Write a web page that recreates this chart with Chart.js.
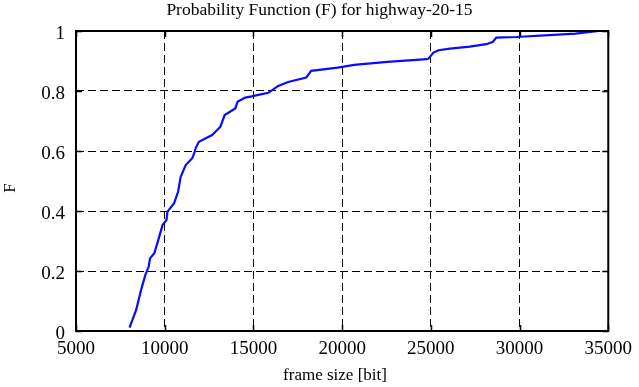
<!DOCTYPE html>
<html>
<head>
<meta charset="utf-8">
<script src="https://cdn.jsdelivr.net/npm/chart.js@4"></script>
<style>
  html,body{margin:0;padding:0;background:#fff;}
  #wrap{width:639px;height:387px;}
</style>
</head>
<body>
<div id="wrap"><canvas id="chart" width="639" height="387"></canvas></div>
<script>
'use strict';

// CDF curve: frame size [bit] -> F
const frameSize = [8017, 8390, 8670, 8910, 9095, 9170, 9413, 9637, 9877, 10100, 10157, 10530, 10754, 10900, 11184,
  11553, 11650, 11743, 11927, 12670, 13140, 13380, 13977, 14106, 14536, 14905, 15279, 15838, 16397, 16955,
  17978, 18257, 19749, 20680, 22542, 24777, 24870, 25150, 25430, 26080, 27196, 28128, 28500, 28687, 29804,
  31664, 33156, 34460];
const cdf = [0.011, 0.07, 0.137, 0.187, 0.214, 0.242, 0.259, 0.303, 0.353, 0.37, 0.398, 0.426, 0.464, 0.514, 0.553,
  0.576, 0.59, 0.609, 0.631, 0.653, 0.681, 0.72, 0.742, 0.764, 0.778, 0.782, 0.787, 0.794, 0.817, 0.83,
  0.845, 0.867, 0.878, 0.887, 0.897, 0.906, 0.908, 0.928, 0.936, 0.941, 0.948, 0.956, 0.964, 0.978, 0.98,
  0.986, 0.991, 1.0];

const xTicks = [5000, 10000, 15000, 20000, 25000, 30000, 35000];
const yTicks = [0, 0.2, 0.4, 0.6, 0.8, 1];

const FONT = '"Liberation Serif", "DejaVu Serif", serif';

// black frame, short inward ticks on all four sides, axis titles
const framePlugin = {
  id: 'frame',
  afterDraw(c){
    const {ctx, chartArea: a, scales: {x, y}} = c;
    ctx.save();
    ctx.strokeStyle = '#000';
    ctx.lineWidth = 1.5;
    ctx.setLineDash([]);
    ctx.beginPath();
    xTicks.forEach(v => {
      const px = Math.round(x.getPixelForValue(v)) + 0.5;
      ctx.moveTo(px, a.bottom); ctx.lineTo(px, a.bottom - 6);
      ctx.moveTo(px, a.top); ctx.lineTo(px, a.top + 6);
    });
    yTicks.forEach(v => {
      const py = Math.round(y.getPixelForValue(v)) + 0.5;
      ctx.moveTo(a.left, py); ctx.lineTo(a.left + 6, py);
      ctx.moveTo(a.right, py); ctx.lineTo(a.right - 6, py);
    });
    ctx.stroke();
    ctx.lineWidth = 2;
    ctx.strokeRect(a.left, a.top, a.right - a.left, a.bottom - a.top);

    ctx.fillStyle = '#000';
    ctx.font = '17px ' + FONT;
    ctx.textAlign = 'center';
    ctx.textBaseline = 'middle';
    ctx.fillText('frame size [bit]', 335, 376);
    ctx.translate(11, 188);
    ctx.rotate(-Math.PI / 2);
    ctx.font = '17px ' + FONT;
    ctx.fillText('F', 0, 0);
    ctx.restore();
  }
};

new Chart(document.getElementById('chart'), {
  type: 'scatter',
  data: {
    datasets: [{
      data: frameSize.map((v, i) => ({x: v, y: cdf[i]})),
      showLine: true,
      borderColor: '#0a0aff',
      borderWidth: 2.2,
      pointRadius: 0,
      tension: 0
    }]
  },
  options: {
    responsive: false,
    animation: false,
    layout: {padding: 0},
    plugins: {
      legend: {display: false},
      tooltip: {enabled: false},
      title: {
        display: true,
        text: 'Probability Function (F) for highway-20-15',
        color: '#000',
        font: {family: FONT, size: 17.5, weight: 'normal'},
        padding: {top: 0, bottom: 10}
      }
    },
    scales: {
      x: {
        type: 'linear',
        min: 5000, max: 35000,
        afterBuildTicks: s => { s.ticks = xTicks.map(v => ({value: v})); },
        afterFit: s => { s.height = 56; },
        ticks: {
          color: '#000',
          font: {family: FONT, size: 19},
          padding: 7,
          maxRotation: 0,
          callback: v => String(v)
        },
        grid: {color: '#000', lineWidth: 1, drawTicks: false},
        border: {display: false, dash: [8, 4]}
      },
      y: {
        type: 'linear',
        min: 0, max: 1,
        afterBuildTicks: s => { s.ticks = yTicks.map(v => ({value: v})); },
        afterFit: s => { s.width = 76; },
        ticks: {
          color: '#000',
          font: {family: FONT, size: 19},
          padding: 11,
          labelOffset: 3,
          callback: v => String(v)
        },
        grid: {color: '#000', lineWidth: 1, drawTicks: false},
        border: {display: false, dash: [8, 4]}
      },
      // empty right-hand strip so the title centres on the whole canvas
      yR: {
        position: 'right',
        afterFit: s => { s.width = 26; },
        ticks: {display: false},
        grid: {display: false, drawTicks: false},
        border: {display: false}
      }
    }
  },
  plugins: [framePlugin]
});
</script>
</body>
</html>
